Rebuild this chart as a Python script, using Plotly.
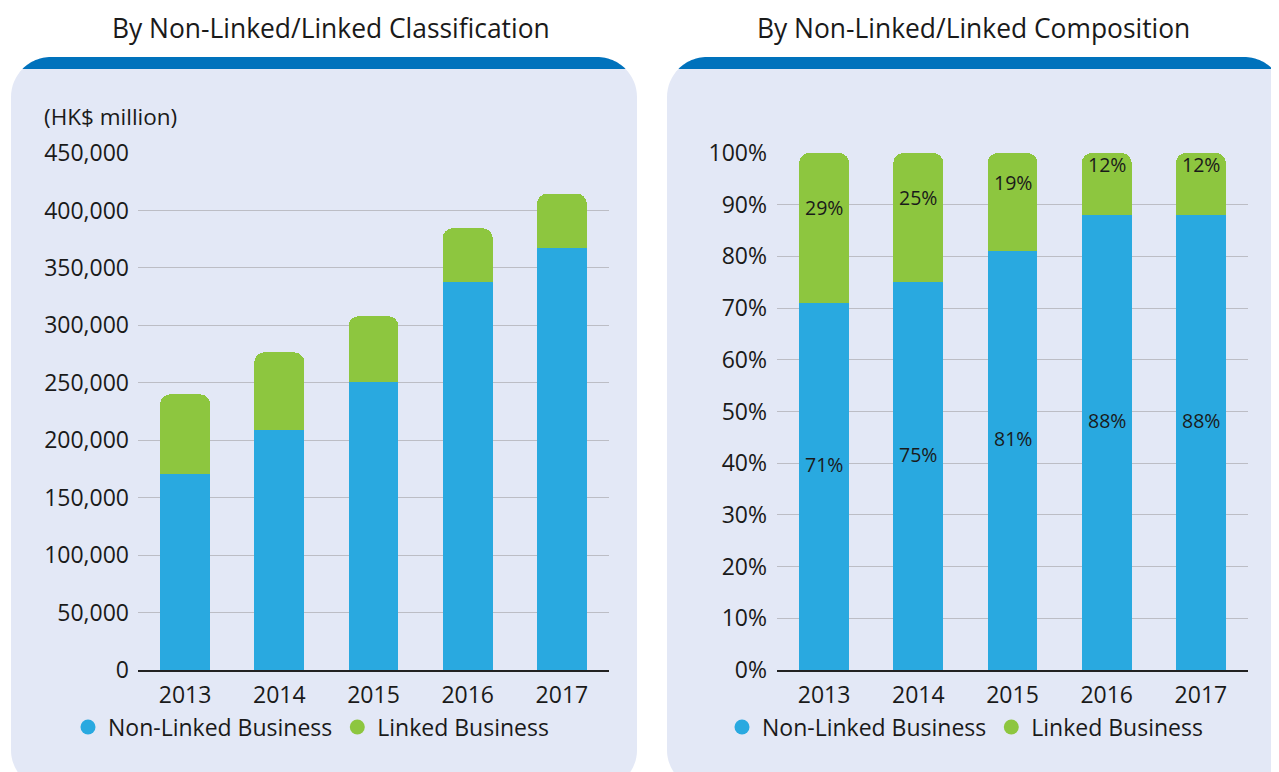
import math
import plotly.graph_objects as go

W, H = 1279, 772
OFF = 8  # page body margin in the browser

years = ["2013", "2014", "2015", "2016", "2017"]
non_linked = [170500, 209000, 251000, 337500, 367500]
linked = [69500, 67500, 57000, 47000, 47000]
non_linked_pct = [71, 75, 81, 88, 88]
linked_pct = [29, 25, 19, 12, 12]
left_ticks = [0, 50000, 100000, 150000, 200000, 250000, 300000, 350000, 400000, 450000]
right_ticks = [0, 10, 20, 30, 40, 50, 60, 70, 80, 90, 100]

BLUE = "#29A9E0"
GREEN = "#8DC63F"
PANEL = "#E3E8F6"
STRIP = "#0072BC"
GRID = "#BCBDC5"
TXT = "#1A1A1A"
FONT = "Open Sans"


def px(x):
    return (x - OFF) / W


def py(y):
    return 1 - (y - OFF) / H


def rrect(x0, y0, x1, y1, r):
    k = 0.5523 * r
    pts = [
        f"M {px(x0 + r)},{py(y0)}",
        f"L {px(x1 - r)},{py(y0)}",
        f"C {px(x1 - r + k)},{py(y0)} {px(x1)},{py(y0 + r - k)} {px(x1)},{py(y0 + r)}",
        f"L {px(x1)},{py(y1 - r)}",
        f"C {px(x1)},{py(y1 - r + k)} {px(x1 - r + k)},{py(y1)} {px(x1 - r)},{py(y1)}",
        f"L {px(x0 + r)},{py(y1)}",
        f"C {px(x0 + r - k)},{py(y1)} {px(x0)},{py(y1 - r + k)} {px(x0)},{py(y1 - r)}",
        f"L {px(x0)},{py(y0 + r)}",
        f"C {px(x0)},{py(y0 + r - k)} {px(x0 + r - k)},{py(y0)} {px(x0 + r)},{py(y0)}",
        "Z",
    ]
    return " ".join(pts)


def cap(x0, y0, x1, r, h):
    """Top strip of height h of a rounded rect with corner radius r."""
    cy = y0 + r
    phi_max = math.acos((r - h) / r)
    n = 16
    left = [(x0 + r - r * math.sin(phi_max * (1 - i / n)),
             cy - r * math.cos(phi_max * (1 - i / n))) for i in range(n + 1)]
    right = [(x1 - r + r * math.sin(phi_max * i / n),
              cy - r * math.cos(phi_max * i / n)) for i in range(n + 1)]
    allp = left + right
    return (f"M {px(allp[0][0])},{py(allp[0][1])} "
            + " ".join(f"L {px(x)},{py(y)}" for x, y in allp[1:]) + " Z")


fig = go.Figure()

# Left chart
fig.add_trace(go.Bar(x=years, y=non_linked, marker=dict(color=BLUE, line=dict(width=0)),
                     width=0.53, xaxis="x", yaxis="y", showlegend=False, hoverinfo="skip"))
fig.add_trace(go.Bar(x=years, y=linked, marker=dict(color=GREEN, line=dict(width=0)),
                     width=0.53, xaxis="x", yaxis="y", showlegend=False, hoverinfo="skip"))

# Right chart
fig.add_trace(go.Bar(x=years, y=non_linked_pct, marker=dict(color=BLUE, line=dict(width=0)),
                     width=0.53, xaxis="x2", yaxis="y2", showlegend=False, hoverinfo="skip"))
fig.add_trace(go.Bar(x=years, y=linked_pct, marker=dict(color=GREEN, line=dict(width=0)),
                     width=0.53, xaxis="x2", yaxis="y2", showlegend=False, hoverinfo="skip"))

# Legend entries (circle markers)
for lg, xa, ya in [("legend", "x", "y"), ("legend2", "x2", "y2")]:
    fig.add_trace(go.Scatter(x=[None], y=[None], mode="markers", name="Non-Linked Business",
                             marker=dict(color=BLUE, size=15, symbol="circle"), legend=lg,
                             xaxis=xa, yaxis=ya))
    fig.add_trace(go.Scatter(x=[None], y=[None], mode="markers", name="Linked Business",
                             marker=dict(color=GREEN, size=15, symbol="circle"), legend=lg,
                             xaxis=xa, yaxis=ya))

shapes = []
for (x0, x1) in [(11, 637), (667, 1284)]:
    shapes.append(dict(type="path", xref="paper", yref="paper", path=rrect(x0, 57, x1, 790, 40),
                       fillcolor=PANEL, line=dict(width=0), layer="below"))
    shapes.append(dict(type="path", xref="paper", yref="paper", path=cap(x0, 57, x1, 40, 12),
                       fillcolor=STRIP, line=dict(width=0), layer="below"))

# Percentage labels on the composition bars (placed from the data values;
# x is the category index on the category axis)
label_font = dict(size=19.5, color=TXT, family=FONT)
annotations = []
for i, (a, b) in enumerate(zip(non_linked_pct, linked_pct)):
    annotations.append(dict(text=f"{a}%", x=i, y=a / 2, xref="x2", yref="y2", yshift=22,
                            showarrow=False, font=label_font))
    annotations.append(dict(text=f"{b}%", x=i, y=a + b / 2, xref="x2", yref="y2", yshift=20,
                            showarrow=False, font=label_font))

annotations += [
    dict(text="By Non-Linked/Linked Classification", x=px(331), y=py(28), xref="paper",
         yref="paper", xanchor="center", yanchor="middle", showarrow=False,
         font=dict(family=FONT, size=26.4, color=TXT)),
    dict(text="By Non-Linked/Linked Composition", x=px(973), y=py(28), xref="paper",
         yref="paper", xanchor="center", yanchor="middle", showarrow=False,
         font=dict(family=FONT, size=26.4, color=TXT)),
    dict(text="(HK$ million)", x=px(42), y=py(116), xref="paper", yref="paper",
         xanchor="left", yanchor="middle", showarrow=False,
         font=dict(family=FONT, size=22.5, color=TXT)),
]

ydom = [py(670), py(153)]
axis_font = dict(family=FONT, size=23, color=TXT)
legend_font = dict(family=FONT, size=23, color=TXT)

fig.update_layout(
    width=W, height=H, autosize=False,
    margin=dict(l=0, r=0, t=0, b=0, pad=0, autoexpand=False),
    paper_bgcolor="white", plot_bgcolor="rgba(0,0,0,0)",
    barmode="stack", barcornerradius=10,
    font=dict(family=FONT, color=TXT),
    shapes=shapes,
    annotations=annotations,
    xaxis=dict(domain=[px(138), px(609)], range=[-0.5, 4.5], type="category",
               showgrid=False, showline=True, linecolor="#222222", linewidth=1.5,
               ticks="", tickfont=axis_font, ticklabelstandoff=4, automargin=False,
               fixedrange=True),
    yaxis=dict(domain=ydom, range=[0, 450000], tickvals=left_ticks,
               ticktext=[f"{v:,}" for v in left_ticks],
               showgrid=True, gridcolor=GRID, gridwidth=1.4, zeroline=False, showline=False,
               ticks="", tickfont=axis_font, ticklabelstandoff=8, automargin=False,
               fixedrange=True),
    xaxis2=dict(domain=[px(777), px(1248)], range=[-0.5, 4.5], type="category",
                showgrid=False, showline=True, linecolor="#222222", linewidth=1.5,
                ticks="", tickfont=axis_font, ticklabelstandoff=4, anchor="y2",
                automargin=False, fixedrange=True),
    yaxis2=dict(domain=ydom, range=[0, 100], tickvals=right_ticks,
                ticktext=[f"{v}%" for v in right_ticks],
                showgrid=True, gridcolor=GRID, gridwidth=1.4, zeroline=False, showline=False,
                ticks="", tickfont=axis_font, ticklabelstandoff=9, anchor="x2",
                automargin=False, fixedrange=True),
    legend=dict(orientation="h", x=px(68), y=py(727), xanchor="left", yanchor="middle",
                font=legend_font, bgcolor="rgba(0,0,0,0)", traceorder="normal",
                itemclick=False, itemdoubleclick=False),
    legend2=dict(orientation="h", x=px(722), y=py(727), xanchor="left", yanchor="middle",
                 font=legend_font, bgcolor="rgba(0,0,0,0)", traceorder="normal",
                 itemclick=False, itemdoubleclick=False),
)

fig.write_html("out.html")
